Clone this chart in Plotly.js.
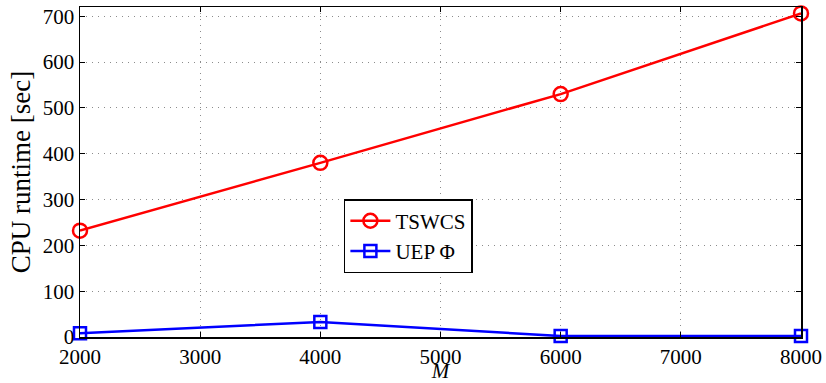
<!DOCTYPE html>
<html>
<head>
<meta charset="utf-8">
<script src="https://cdn.plot.ly/plotly-3.0.1.min.js"></script>
<style>html,body{margin:0;padding:0;background:#fff;}#chart{width:826px;height:383px;}</style>
</head>
<body>
<div id="chart"></div>
<script>
// Problem size M and measured CPU runtimes (seconds)
const M = [2000, 4000, 6000, 8000];
const tswcs = [232, 380, 530, 706];
const uepPhi = [8, 33, 2, 2];
const xTicks = [2000, 3000, 4000, 5000, 6000, 7000, 8000];
const yTicks = [0, 100, 200, 300, 400, 500, 600, 700];

const serif = 'Liberation Serif, Times New Roman, serif';

const traces = [
  {
    x: M, y: tswcs, name: 'TSWCS', type: 'scatter', mode: 'lines+markers',
    line: {color: '#ff0000', width: 2.5},
    marker: {symbol: 'circle-open', size: 14, color: '#ff0000', line: {width: 2.5, color: '#ff0000'}},
    cliponaxis: false
  },
  {
    x: M, y: uepPhi, name: 'UEP \u03A6', type: 'scatter', mode: 'lines+markers',
    line: {color: '#0000ff', width: 2.5},
    marker: {symbol: 'square-open', size: 12, color: '#0000ff', line: {width: 2.5, color: '#0000ff'}},
    cliponaxis: false
  }
];

const axisCommon = {
  showline: true, mirror: 'ticks', linecolor: '#000', linewidth: 1.5,
  ticks: 'inside', ticklen: 5, tickcolor: '#000', tickwidth: 1,
  showgrid: true, gridcolor: '#8c8c8c', griddash: '1px,5px', gridwidth: 1,
  zeroline: false,
  tickfont: {family: serif, size: 21, color: '#000'}
};

const layout = {
  width: 826, height: 383,
  font: {family: serif, color: '#000'},
  margin: {l: 80, r: 25, t: 7, b: 46},
  paper_bgcolor: '#fff', plot_bgcolor: '#fff',
  showlegend: true,
  legend: {
    x: 0.366, y: 0.418, xanchor: 'left', yanchor: 'top',
    bgcolor: '#fff', bordercolor: '#000', borderwidth: 1.5,
    font: {family: serif, size: 21, color: '#000'},
    tracegroupgap: 0, itemwidth: 40
  },
  xaxis: Object.assign({}, axisCommon, {
    range: [2000, 8000], tickvals: xTicks, ticktext: xTicks.map(String),
    title: {text: '<i>M</i>', font: {family: serif, size: 21, color: '#000'}, standoff: 2}
  }),
  yaxis: Object.assign({}, axisCommon, {
    range: [0, 720], tickvals: yTicks, ticktext: yTicks.map(String),
    title: {text: 'CPU runtime [sec]', font: {family: serif, size: 27, color: '#000'}, standoff: 4}
  })
};

Plotly.newPlot('chart', traces, layout, {displayModeBar: false, staticPlot: true});
</script>
</body>
</html>
